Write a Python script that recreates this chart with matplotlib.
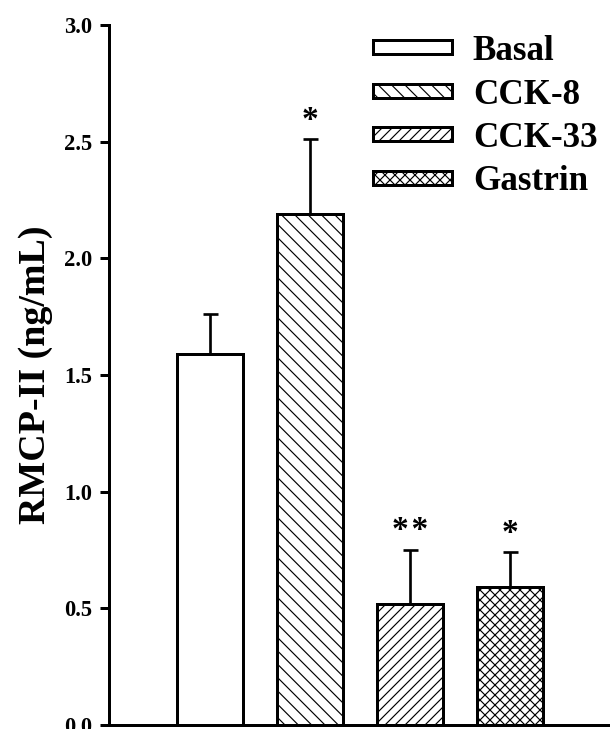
import numpy as np
import matplotlib
matplotlib.use('Agg')
import matplotlib.pyplot as plt

# ==================== Data ====================
groups = ['Basal', 'CCK-8', 'CCK-33', 'Gastrin']
means = [1.59, 2.19, 0.52, 0.59]          # RMCP-II (ng/mL)
sem = [0.17, 0.32, 0.23, 0.15]
marks = ['', '*', '*\u200a*', '*']          # significance vs basal
hatches = ['', '\\\\\\', '////', 'xxxx']

# ==================== Style ====================
plt.rcParams['font.family'] = ['Liberation Serif', 'DejaVu Serif']
plt.rcParams['font.weight'] = 'bold'
plt.rcParams['hatch.linewidth'] = 0.7
plt.rcParams['hatch.color'] = 'black'

DPI = 120
fig = plt.figure(figsize=(610 / DPI, 729 / DPI), dpi=DPI)
ax = fig.add_axes([0.1787, 0.0055, 0.8213, 0.9602])

x = np.arange(len(groups))
bars = ax.bar(x, means, width=0.66, color='white', edgecolor='black',
              linewidth=1.8, hatch=hatches, label=groups, zorder=2)

# Upper error bars only
ax.errorbar(x, means, yerr=[np.zeros(len(sem)), sem], fmt='none',
            ecolor='black', elinewidth=1.6, capsize=4.5, capthick=1.6, zorder=3)

for xi, m, s, lab in zip(x, means, sem, marks):
    if lab:
        ax.text(xi, m + s + 0.045, lab, ha='center', va='baseline',
                fontsize=20, fontweight='bold')

ax.set_xlim(-1.01, 4.0)
ax.set_ylim(0, 3.0)
ax.set_yticks(np.arange(0, 3.01, 0.5))
ax.set_yticklabels([f'{v:.1f}' for v in np.arange(0, 3.01, 0.5)])
ax.set_xticks([])

for side in ['top', 'right']:
    ax.spines[side].set_visible(False)
for side in ['left', 'bottom']:
    ax.spines[side].set_linewidth(1.8)

ax.tick_params(axis='y', direction='out', length=5.4, width=1.8,
               pad=4.8, labelsize=13.5)
for t in ax.get_yticklabels():
    t.set_fontweight('bold')

ax.set_ylabel('RMCP-II (ng/mL)', fontsize=22.8, fontweight='bold')
ax.yaxis.set_label_coords(-0.112, 0.5)

leg = ax.legend(handles=bars.patches, labels=groups, loc='upper left',
                bbox_to_anchor=(372.7 / 610, 1 - 35 / 729),
                bbox_transform=fig.transFigure, frameon=False,
                prop={'size': 21, 'weight': 'bold'},
                handlelength=2.26, handleheight=0.25, handletextpad=0.6,
                labelspacing=0.3, borderpad=0, borderaxespad=0)

fig.savefig('out.png', dpi=DPI)
